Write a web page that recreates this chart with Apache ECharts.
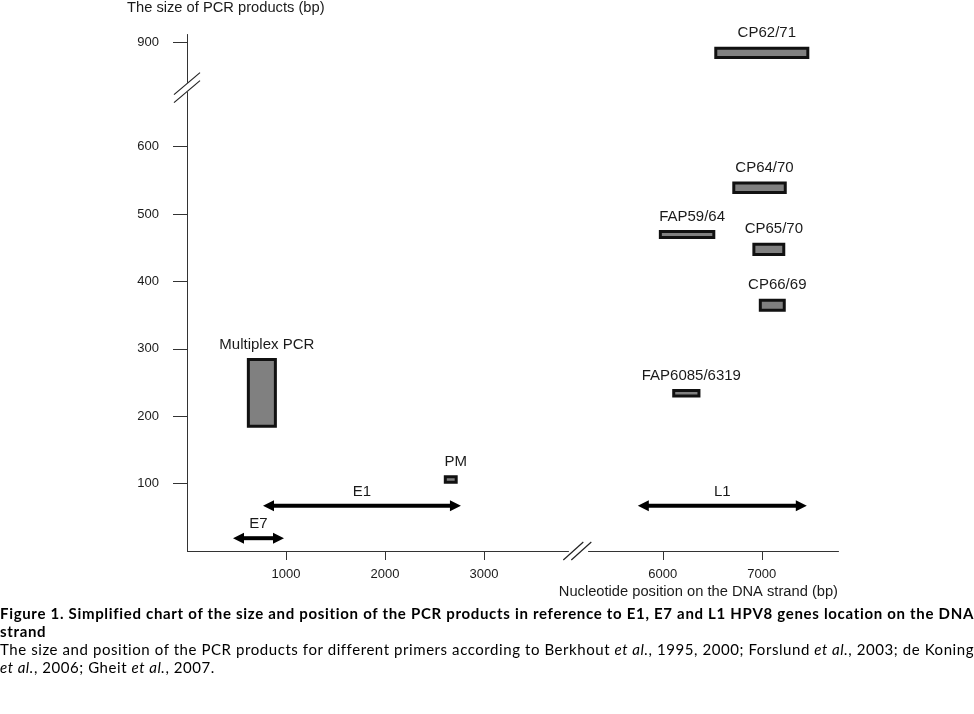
<!DOCTYPE html>
<html>
<head>
<meta charset="utf-8">
<script src="https://cdn.jsdelivr.net/npm/echarts@6/dist/echarts.min.js"></script>
<style>
html,body{margin:0;padding:0;background:#fff;}
#wrap{position:relative;width:974px;height:714px;overflow:hidden;}
#chart{position:absolute;left:0;top:0;width:974px;height:714px;}
#caption{position:absolute;left:0;top:604px;width:974px;font-family:Lato,"Open Sans",sans-serif;font-size:15px;line-height:18px;color:#000;}
#caption div{white-space:nowrap;}
#caption .j{text-align:justify;text-align-last:justify;}
#caption b{font-weight:700;}
</style>
</head>
<body>
<div id="wrap">
<div id="chart"></div>
<div id="caption">
<div class="j" id="l1"><b>Figure 1. Simplified chart of the size and position of the PCR products in reference to E1, E7 and L1 HPV8 genes location on the DNA</b></div>
<div id="l2"><b>strand</b></div>
<div class="j" id="l3">The size and position of the PCR products for different primers according to Berkhout <i>et al.</i>, 1995, 2000; Forslund <i>et al.</i>, 2003; de Koning</div>
<div id="l4"><i>et al.</i>, 2006; Gheit <i>et al.</i>, 2007.</div>
</div>
</div>
<script>
// ---- data ----
const productNames = ['Multiplex PCR', 'PM', 'FAP6085/6319', 'FAP59/64', 'CP66/69', 'CP65/70', 'CP64/70', 'CP62/71'];
const productStart = [620, 2610, 6110, 5975, 6985, 6920, 6717, 6535];
const productEnd   = [893, 2720, 6365, 6515, 7227, 7222, 7237, 7465];
const sizeLow      = [185, 102, 230, 465, 357, 440, 532, 877];
const sizeHigh     = [284, 110, 238, 474, 372, 455, 546, 891];

const geneNames = ['E7', 'E1', 'L1'];
const geneStart = [465, 768, 5747];
const geneEnd   = [980, 2768, 7455];
const geneLevel = [19, 67, 67];

const xTicks = [1000, 2000, 3000, 6000, 7000];
const yTicks = [100, 200, 300, 400, 500, 600, 900];

const xBreak = {start: 3850, end: 5250, gap: 208};
const yBreak = {start: 680, end: 840, gap: 15};

const FONT = '"Liberation Sans", Arial, sans-serif';
const TEXT = '#1a1a1a';

const boxData = productNames.map((n, i) => [productStart[i], productEnd[i], sizeLow[i], sizeHigh[i]]);
const geneData = geneNames.map((n, i) => [geneStart[i], geneEnd[i], geneLevel[i]]);

function renderBox(params, api) {
  const p1 = api.coord([api.value(0), api.value(3)]);
  const p2 = api.coord([api.value(1), api.value(2)]);
  return {
    type: 'group',
    children: [
      {type: 'rect', shape: {x: p1[0], y: p1[1], width: p2[0] - p1[0], height: p2[1] - p1[1]},
        style: {fill: '#808080', stroke: '#111', lineWidth: 3}},
      {type: 'text', x: (p1[0] + p2[0]) / 2 + 5, y: p1[1] - 15,
        style: {text: productNames[params.dataIndex], fill: TEXT, font: '15px ' + FONT, align: 'center', verticalAlign: 'middle'}}
    ]
  };
}

function renderGene(params, api) {
  const a = api.coord([api.value(0), api.value(2)]);
  const b = api.coord([api.value(1), api.value(2)]);
  const hl = 11, hw = 5.5, y = a[1];
  return {
    type: 'group',
    children: [
      {type: 'line', shape: {x1: a[0] + hl - 1, y1: y, x2: b[0] - hl + 1, y2: y}, style: {stroke: '#000', lineWidth: 4}},
      {type: 'polygon', shape: {points: [[a[0], y], [a[0] + hl, y - hw], [a[0] + hl, y + hw]]}, style: {fill: '#000'}},
      {type: 'polygon', shape: {points: [[b[0], y], [b[0] - hl, y - hw], [b[0] - hl, y + hw]]}, style: {fill: '#000'}},
      {type: 'text', x: (a[0] + b[0]) / 2, y: y - 14,
        style: {text: geneNames[params.dataIndex], fill: TEXT, font: '15px ' + FONT, align: 'center', verticalAlign: 'middle'}}
    ]
  };
}

const chart = echarts.init(document.getElementById('chart'), null, {renderer: 'canvas'});
const plain = v => String(v);
const option = {
  animation: false,
  backgroundColor: '#fff',
  grid: {left: 187, right: 136, top: 34, bottom: 163, containLabel: false},
  xAxis: {
    type: 'value', min: 0, max: 7770,
    breaks: [xBreak],
    breakArea: {show: false},
    splitLine: {show: false},
    axisLine: {show: true, onZero: false, lineStyle: {color: '#333', width: 1}},
    axisTick: {show: true, customValues: xTicks, length: 9, lineStyle: {color: '#333'}},
    axisLabel: {show: true, customValues: xTicks, formatter: plain, margin: 17, color: TEXT, fontSize: 13, fontFamily: FONT}
  },
  yAxis: {
    type: 'value', min: 0, max: 912,
    breaks: [yBreak],
    breakArea: {show: false},
    splitLine: {show: false},
    axisLine: {show: true, onZero: false, lineStyle: {color: '#333', width: 1}},
    axisTick: {show: true, customValues: yTicks, length: 14, lineStyle: {color: '#333'}},
    axisLabel: {show: true, customValues: yTicks, formatter: plain, margin: 28, color: TEXT, fontSize: 13, fontFamily: FONT}
  },
  series: [
    {type: 'custom', renderItem: renderBox, data: boxData, encode: {x: [0, 1], y: [2, 3]}, clip: false},
    {type: 'custom', renderItem: renderGene, data: geneData, encode: {x: [0, 1], y: 2}, clip: false}
  ],
  graphic: [
    {type: 'text', left: 127, top: 0, style: {text: 'The size of PCR products (bp)', fill: TEXT, font: '14.7px ' + FONT}},
    {type: 'text', right: 136, top: 584, style: {text: 'Nucleotide position on the DNA strand (bp)', fill: TEXT, font: '14.7px ' + FONT}}
  ]
};
chart.setOption(option);

// break symbols (double slashes) placed from the axis scales
const xb1 = chart.convertToPixel({xAxisIndex: 0}, xBreak.start);
const xb2 = chart.convertToPixel({xAxisIndex: 0}, xBreak.end);
const yb1 = chart.convertToPixel({yAxisIndex: 0}, yBreak.start);
const yb2 = chart.convertToPixel({yAxisIndex: 0}, yBreak.end);
const axY = chart.convertToPixel({yAxisIndex: 0}, 0);
const axX = chart.convertToPixel({xAxisIndex: 0}, 0);
const cx = (xb1 + xb2) / 2 - 1;
const cy = (yb1 + yb2) / 2;
const slashStyle = {stroke: '#222', lineWidth: 1.2};
chart.setOption({
  graphic: option.graphic.concat([
    {type: 'polygon', shape: {points: [[cx - 14, axY + 9], [cx - 6, axY + 9], [cx + 14, axY - 9], [cx + 6, axY - 9]]}, style: {fill: '#fff'}, z: 100},
    {type: 'line', shape: {x1: cx - 14, y1: axY + 9, x2: cx + 6, y2: axY - 9}, style: slashStyle, z: 101},
    {type: 'line', shape: {x1: cx - 6, y1: axY + 9, x2: cx + 14, y2: axY - 9}, style: slashStyle, z: 101},
    {type: 'polygon', shape: {points: [[axX - 13, cy + 7], [axX + 13, cy - 15], [axX + 13, cy - 7], [axX - 13, cy + 15]]}, style: {fill: '#fff'}, z: 100},
    {type: 'line', shape: {x1: axX - 13, y1: cy + 7, x2: axX + 13, y2: cy - 15}, style: slashStyle, z: 101},
    {type: 'line', shape: {x1: axX - 13, y1: cy + 15, x2: axX + 13, y2: cy - 7}, style: slashStyle, z: 101}
  ])
});

// fit caption lines to the full width with letter spacing
function fit(id, followId) {
  const el = document.getElementById(id);
  el.style.textAlignLast = 'left';
  el.style.display = 'inline-block';
  const w = el.getBoundingClientRect().width;
  const n = el.textContent.length;
  const ls = Math.max(0, (972 - w) / n);
  el.style.display = '';
  el.style.textAlignLast = '';
  el.style.letterSpacing = ls + 'px';
  document.getElementById(followId).style.letterSpacing = ls + 'px';
}
fit('l1', 'l2');
fit('l3', 'l4');
</script>
</body>
</html>
